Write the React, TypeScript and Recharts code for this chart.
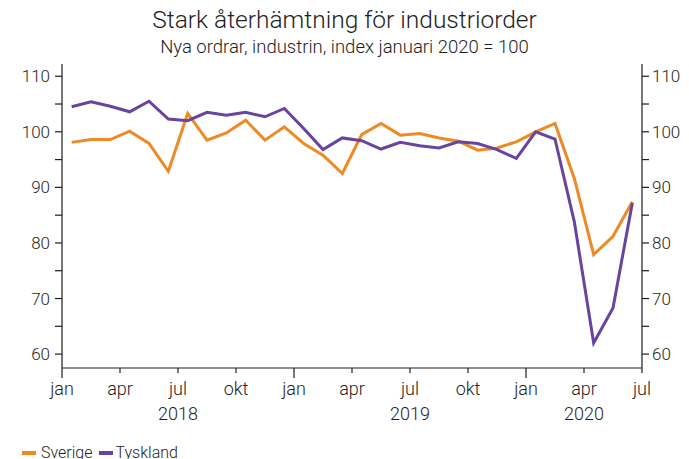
import React from 'react';
import { LineChart, Line, XAxis, YAxis } from 'recharts';

const FONT = '"Roboto", sans-serif';
const INK = '#1e1e1e';
const WEIGHT = 300;

const sverige = [
  98.1, 98.6, 98.6, 100.1, 97.9, 92.9, 103.3, 98.5, 99.8, 102.1,
  98.5, 100.9, 97.9, 95.8, 92.5, 99.5, 101.5, 99.4, 99.7, 98.9,
  98.3, 96.7, 97.1, 98.2, 100.0, 101.5, 91.6, 77.9, 81.2, 87.4,
];
const tyskland = [
  104.5, 105.4, 104.6, 103.6, 105.5, 102.3, 102.0, 103.5, 103.0, 103.5,
  102.7, 104.2, 100.6, 96.8, 98.9, 98.4, 96.9, 98.1, 97.5, 97.1,
  98.2, 97.9, 96.8, 95.2, 100.0, 98.7, 83.8, 62.0, 68.3, 87.2,
];
const monthLabels = ['jan', 'apr', 'jul', 'okt'];
const years = ['2018', '2019', '2020'];
const yearTicks = [6, 18, 27];
const xTicks = [0, 3, 6, 9, 12, 15, 18, 21, 24, 27, 30];
const yTicks = [60, 65, 70, 75, 80, 85, 90, 95, 100, 105, 110];

const data = sverige.map((v, i) => ({ t: i + 0.5, sverige: v, tyskland: tyskland[i] }));

const XTick = (props: any) => {
  const { x, y, payload } = props;
  const v = payload.value as number;
  const isJan = v % 12 === 0;
  const label = monthLabels[(v / 3) % 4];
  const yi = yearTicks.indexOf(v);
  return (
    <g>
      <line x1={x} y1={y} x2={x} y2={y + (isJan ? 10 : 5)} stroke={INK} strokeWidth={1.2} />
      <text x={x} y={y + 27} textAnchor="middle" fontSize={18} fill={INK} fontFamily={FONT} fontWeight={WEIGHT}>
        {label}
      </text>
      {yi >= 0 && (
        <text x={x} y={y + 52} textAnchor="middle" fontSize={18} fill={INK} fontFamily={FONT} fontWeight={WEIGHT}>
          {years[yi]}
        </text>
      )}
    </g>
  );
};

const YTick = (props: any) => {
  const { x, y, payload, side } = props;
  const v = payload.value as number;
  const left = side === 'left';
  return (
    <g>
      <line x1={x} y1={y} x2={left ? x - 7 : x + 7} y2={y} stroke={INK} strokeWidth={1.2} />
      {v % 10 === 0 && (
        <text
          x={left ? x - 12 : x + 10}
          y={y}
          dy="0.36em"
          textAnchor={left ? 'end' : 'start'}
          fontSize={17}
          fill={INK}
          fontFamily={FONT}
          fontWeight={WEIGHT}
        >
          {v}
        </text>
      )}
    </g>
  );
};

export default function App() {
  return (
    <div style={{ position: 'absolute', left: 0, top: 0, width: 689, height: 459, background: '#fff', fontFamily: FONT, fontWeight: WEIGHT, color: INK, overflow: 'hidden' }}>
      <div style={{ position: 'absolute', top: 5, left: 0, width: 689, textAlign: 'center', fontSize: 24.5 }}>
        Stark återhämtning för industriorder
      </div>
      <div style={{ position: 'absolute', top: 36, left: 0, width: 689, textAlign: 'center', fontSize: 18.5 }}>
        Nya ordrar, industrin, index januari 2020 = 100
      </div>
      <LineChart width={689} height={459} data={data} margin={{ top: 64, right: 0, bottom: 0, left: 0 }}>
        <XAxis
          dataKey="t"
          type="number"
          domain={[0, 30]}
          ticks={xTicks}
          interval={0}
          height={91}
          tickSize={0}
          tickMargin={0}
          tick={<XTick />}
          stroke={INK}
          strokeWidth={1.2}
        />
        <YAxis
          yAxisId="l"
          orientation="left"
          width={62}
          domain={[57.5, 112.2]}
          ticks={yTicks}
          interval={0}
          allowDataOverflow
          tickSize={0}
          tickMargin={0}
          tick={<YTick side="left" />}
          stroke={INK}
          strokeWidth={1.2}
        />
        <YAxis
          yAxisId="r"
          orientation="right"
          width={47}
          domain={[57.5, 112.2]}
          ticks={yTicks}
          interval={0}
          allowDataOverflow
          tickSize={0}
          tickMargin={0}
          tick={<YTick side="right" />}
          stroke={INK}
          strokeWidth={1.2}
        />
        <Line yAxisId="l" dataKey="sverige" stroke="#EE8A23" strokeWidth={3} dot={false} isAnimationActive={false} />
        <Line yAxisId="l" dataKey="tyskland" stroke="#6943A0" strokeWidth={3} dot={false} isAnimationActive={false} />
      </LineChart>
      <div style={{ position: 'absolute', top: 443, left: 22, display: 'flex', alignItems: 'center', fontSize: 16, whiteSpace: 'nowrap' }}>
        <span style={{ display: 'inline-block', width: 14, height: 4, background: '#EE8A23', marginRight: 5 }} />
        <span style={{ marginRight: 6 }}>Sverige</span>
        <span style={{ display: 'inline-block', width: 14, height: 4, background: '#6943A0', marginRight: 3 }} />
        <span>Tyskland</span>
      </div>
    </div>
  );
}
